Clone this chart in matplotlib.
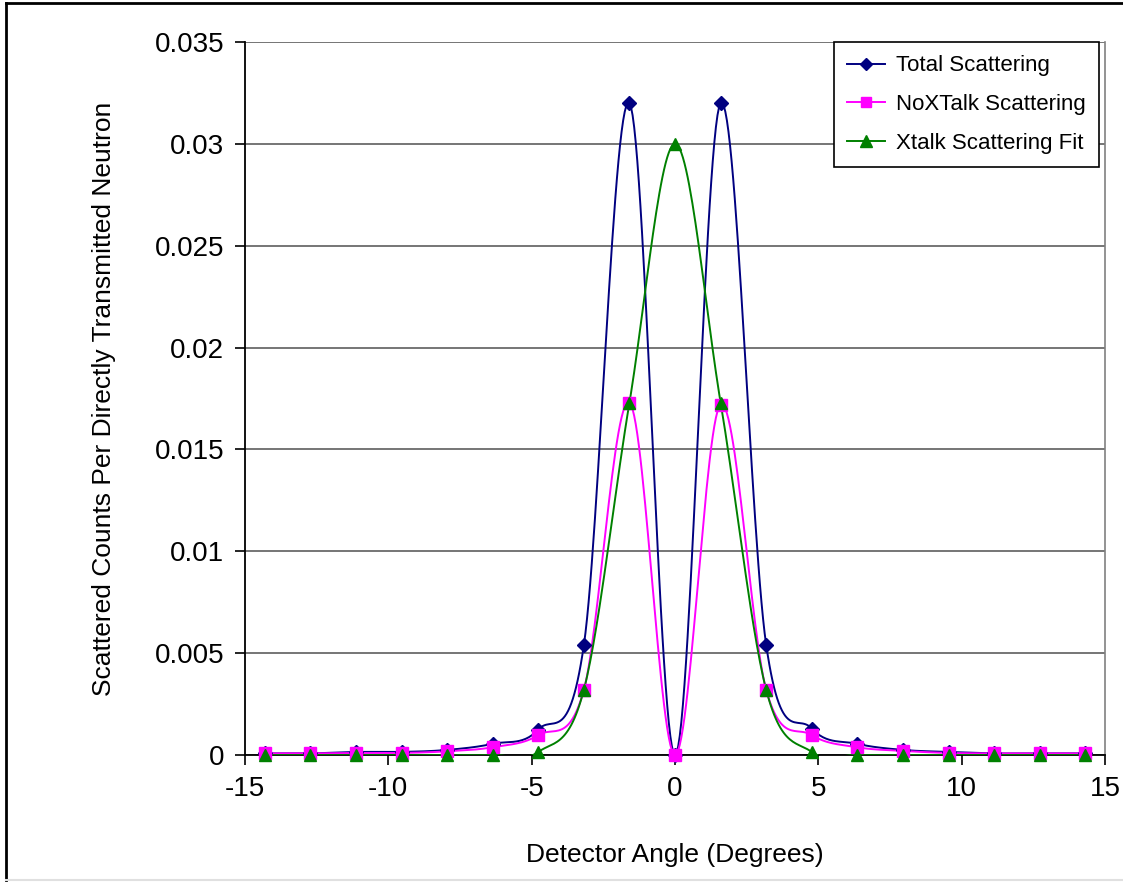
import numpy as np
import matplotlib
matplotlib.use("Agg")
import matplotlib.pyplot as plt
from matplotlib.lines import Line2D
from matplotlib.ticker import FuncFormatter

plt.rcParams['font.family'] = ['Liberation Sans', 'DejaVu Sans']

# detector angles (degrees)
angles = [-14.31, -12.72, -11.13, -9.54, -7.95, -6.36, -4.77, -3.18, -1.59, 0.0,
          1.59, 3.18, 4.77, 6.36, 7.95, 9.54, 11.13, 12.72, 14.31]

total = [0.00008, 0.00008, 0.00015, 0.00015, 0.00025, 0.00055, 0.00125, 0.0054, 0.032, 0.0,
         0.032, 0.0054, 0.0013, 0.00055, 0.00025, 0.00015, 0.00008, 0.00008, 0.00008]
noxtalk = [0.00008, 0.00008, 0.0001, 0.0001, 0.00018, 0.00038, 0.00098, 0.0032, 0.0173, 0.0,
           0.0172, 0.0032, 0.00098, 0.00038, 0.0002, 0.0001, 0.00008, 0.00008, 0.00008]
xtalk = [0.0, 0.0, 0.0, 0.0, 0.0, 0.0, 0.00015, 0.0032, 0.0173, 0.030,
         0.0173, 0.0032, 0.00015, 0.0, 0.0, 0.0, 0.0, 0.0, 0.0]

labels = ["Total Scattering", "NoXTalk Scattering", "Xtalk Scattering Fit"]


def smooth(x, y, n=30):
    """Excel-like smoothed line: cubic bezier through points (Catmull-Rom tangents)."""
    p = np.column_stack([x, y]).astype(float)
    p = np.vstack([p[0], p, p[-1]])
    out = []
    t = np.linspace(0, 1, n)[:, None]
    for i in range(1, len(p) - 2):
        p0, p3 = p[i], p[i + 1]
        c1 = p0 + (p[i + 1] - p[i - 1]) / 6
        c2 = p3 - (p[i + 2] - p[i]) / 6
        seg = ((1 - t) ** 3) * p0 + 3 * ((1 - t) ** 2) * t * c1 + 3 * (1 - t) * t ** 2 * c2 + t ** 3 * p3
        out.append(seg)
    out = np.vstack(out)
    return out[:, 0], out[:, 1]


fig = plt.figure(figsize=(11.23, 8.82), dpi=100)
ax = fig.add_axes([0.2182, 0.144, 0.7658, 0.8084])

series = [
    (total, '#000080', 'D', 7),
    (noxtalk, '#FF00FF', 's', 8),
    (xtalk, '#008000', '^', 9),
]
for (vals, col, mk, ms), lab in zip(series, labels):
    sx, sy = smooth(angles, vals)
    ax.plot(sx, sy, color=col, lw=1.4, zorder=3)
    ax.plot(angles, vals, linestyle='none', marker=mk, ms=ms, color=col, zorder=4, clip_on=False)
    ax.plot([], [], color=col, lw=1.4, marker=mk, ms=ms - 1, label=lab)

ax.set_xlim(-15, 15)
ax.set_ylim(0, 0.035)
ax.set_xticks(np.arange(-15, 16, 5))
ax.set_yticks(np.arange(0, 0.0351, 0.005))
ax.yaxis.set_major_formatter(FuncFormatter(lambda v, pos: f"{round(v, 3):g}"))
ax.xaxis.set_major_formatter(FuncFormatter(lambda v, pos: f"{v:g}"))
ax.yaxis.grid(True, color='#6a6a6a', lw=1.3)
ax.set_axisbelow(True)
ax.tick_params(axis='both', direction='out', length=7, width=1.2, labelsize=20, pad=8)

for s in ['left', 'bottom']:
    ax.spines[s].set_color('black')
    ax.spines[s].set_linewidth(1.3)
ax.spines['top'].set_visible(False)
ax.spines['right'].set_color('#808080')
ax.spines['right'].set_linewidth(1.2)

ax.set_xlabel("Detector Angle (Degrees)", fontsize=19, labelpad=30)
ax.set_ylabel("Scattered Counts Per Directly Transmitted Neutron", fontsize=19, labelpad=28)

leg = ax.legend(loc='upper right', bbox_to_anchor=(0.993, 1.0), borderaxespad=0,
                fontsize=16, frameon=True, fancybox=False, edgecolor='black',
                framealpha=1, handlelength=1.7, labelspacing=0.8, borderpad=0.6,
                handletextpad=0.5)
leg.get_frame().set_linewidth(1.2)
leg.set_zorder(10)

# outer chart border
fig.add_artist(Line2D([6 / 1123, 6 / 1123], [0.002, 1 - 3 / 882], color='black', lw=2))
fig.add_artist(Line2D([6 / 1123, 1.0], [1 - 3 / 882, 1 - 3 / 882], color='black', lw=2))
fig.add_artist(Line2D([6 / 1123, 1.0], [0.002, 0.002], color='#e0e0e0', lw=1.5))

fig.savefig("out.png", dpi=100)
